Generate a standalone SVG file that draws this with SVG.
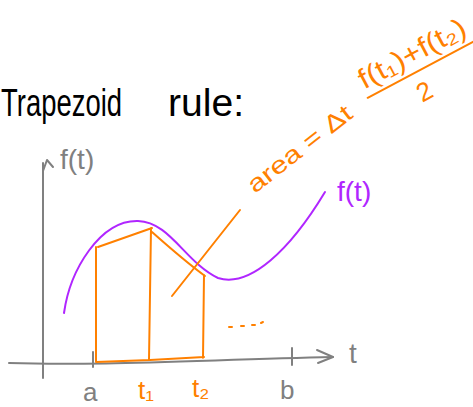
<svg xmlns="http://www.w3.org/2000/svg" width="473" height="407" viewBox="0 0 473 407">
<style>
.ln{fill:none;stroke-width:2;stroke-linecap:round;stroke-linejoin:round}
.gray{stroke:#808080}
.or{stroke:#ff8000}
.pu{stroke:#b026ff}
.t{font-family:"Liberation Sans","DejaVu Sans",sans-serif}
</style>
<rect width="473" height="407" fill="#ffffff"/>
<g id="title">
<text class="t" x="1" y="116" font-size="38" fill="#000" textLength="121" lengthAdjust="spacingAndGlyphs">Trapezoid</text>
<text class="t" x="168" y="116" font-size="38" fill="#000" textLength="76" lengthAdjust="spacingAndGlyphs">rule:</text>
</g>
<g id="axes">
<path class="ln gray" d="M43,378 L43,163"/>
<path class="ln gray" d="M43,171 L47,160 L53,167"/>
<path class="ln gray" d="M9,363 C100,366 200,360 333,357"/>
<path class="ln gray" d="M317,350 L333,357 L318,363"/>
<path class="ln gray" d="M93,352 L93,367 M292,348 L292,365"/>
<text class="t" x="60" y="169" font-size="28" fill="#808080">f(t)</text>
<text class="t" x="349" y="363" font-size="28" fill="#808080">t</text>
<text class="t" x="83" y="401" font-size="26" fill="#808080">a</text>
<text class="t" x="280" y="399" font-size="26" fill="#808080">b</text>
</g>
<g id="curve">
<path class="ln pu" d="M64,313 C70,270 100,220 138,221 C170,222 185,262 218,278 C250,288 290,250 325,192"/>
<text class="t" x="337" y="201" font-size="28" fill="#b026ff">f(t)</text>
</g>
<g id="trapezoids">
<path class="ln or" d="M96,247 L96,362 M98,247 L152,228 M151,228 L149,360 M152,232 C170,248 190,265 205,276 M204,275 L203,358 M96,362 L150,360 L204,357"/>
<path class="ln or" d="M229,327 L232,327 M241,326 L244,326 M252,325 L255,325 M261,323 L263,322"/>
<text class="t" x="138" y="399" font-size="26" fill="#ff8000">t₁</text>
<text class="t" x="192" y="397" font-size="26" fill="#ff8000">t₂</text>
</g>
<g id="formula">
<path class="ln or" d="M172,296 L240,210"/>
<g transform="translate(255,194) rotate(-38)">
<text class="t" x="0" y="0" font-size="24" fill="#ff8000" textLength="126" lengthAdjust="spacingAndGlyphs">area = Δt</text>
</g>
<g transform="translate(364,93) rotate(-28)">
<text class="t" x="2" y="-3" font-size="28" fill="#ff8000" textLength="118" lengthAdjust="spacingAndGlyphs">f(t₁)+f(t₂)</text>
<path class="ln or" d="M1,6 L124,6"/>
<text class="t" x="54" y="36" font-size="26" fill="#ff8000" text-anchor="middle">2</text>
</g>
</g>
</svg>
